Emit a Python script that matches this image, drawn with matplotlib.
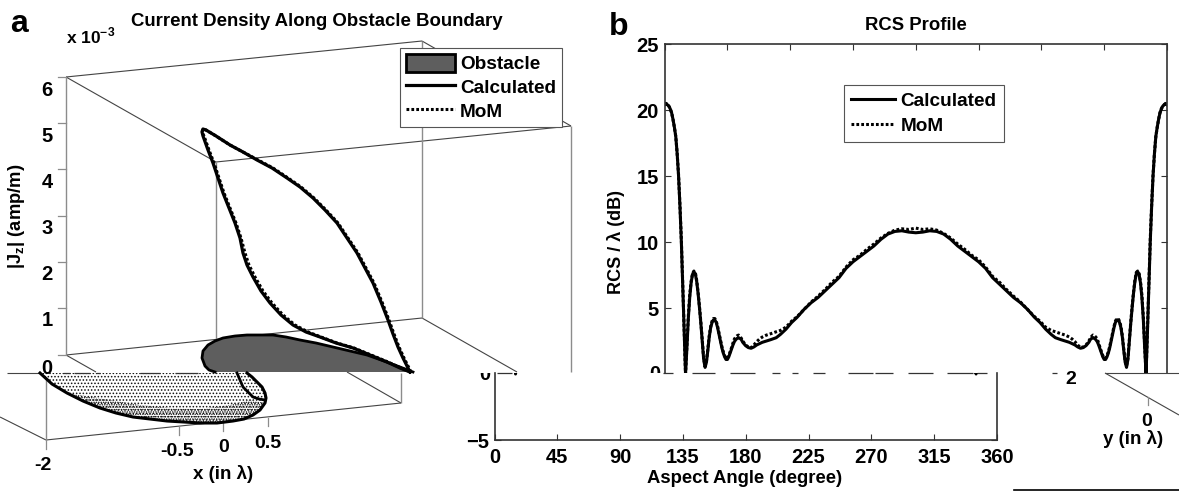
import matplotlib
matplotlib.use("Agg")
import matplotlib.pyplot as plt
from matplotlib.patches import Polygon, Rectangle, Patch
from matplotlib.lines import Line2D

plt.rcParams['font.family'] = ['Liberation Sans', 'DejaVu Sans']
plt.rcParams['font.weight'] = 'bold'
plt.rcParams['mathtext.fontset'] = 'custom'
plt.rcParams['mathtext.bf'] = 'Liberation Sans:bold'
plt.rcParams['mathtext.rm'] = 'Liberation Sans:bold'
plt.rcParams['hatch.linewidth'] = 0.7

W, H = 1179, 493
CUT = 372.5

# ---- panel b data -------------------------------------------------------
angle_half = [0, 1, 2, 3, 4, 5, 6, 7, 8, 9, 10, 11, 12, 13, 14, 15, 16, 17, 18, 19, 20, 21, 22, 23, 24, 25, 26, 27,
              28, 29, 30, 31, 32, 33, 34, 35, 36, 37, 38, 39, 40, 41, 42, 43, 44, 45, 46, 47, 48, 49, 50, 51, 52,
              53, 54, 55, 56, 58, 60, 62, 64, 66, 68, 70, 73, 76, 80, 83, 87, 91, 95, 100, 105, 110, 115, 120,
              125, 130, 135, 140, 145, 150, 155, 160, 165, 170, 175, 180]
calc_half = [20.4, 20.5, 20.4, 20.3, 20.1, 19.8, 19.3, 18.7, 18.0, 16.7, 15.0, 12.7, 10.0, 6.7, 3.2, 0.0, 2.0, 4.2,
             5.8, 6.9, 7.55, 7.75, 7.6, 7.0, 6.1, 5.0, 3.8, 2.5, 1.1, 0.5, 0.9, 1.8, 2.8, 3.5, 3.9, 4.1, 4.1, 3.9,
             3.5, 3.0, 2.5, 2.0, 1.6, 1.3, 1.1, 1.1, 1.3, 1.6, 1.9, 2.2, 2.45, 2.6, 2.7, 2.75, 2.7, 2.6, 2.4, 2.15,
             2.0, 1.95, 2.05, 2.2, 2.3, 2.4, 2.5, 2.6, 2.75, 3.0, 3.4, 3.9, 4.3, 4.9, 5.4, 5.8, 6.3, 6.8, 7.3, 8.0,
             8.5, 8.9, 9.3, 9.7, 10.2, 10.6, 10.8, 10.85, 10.75, 10.7]
mom_half = [20.4, 20.5, 20.4, 20.3, 20.1, 19.8, 19.3, 18.7, 18.0, 16.7, 15.1, 12.8, 10.2, 6.9, 3.4, 0.0, 2.2, 4.4,
            6.0, 7.0, 7.6, 7.8, 7.7, 7.1, 6.2, 5.1, 3.9, 2.6, 1.2, 0.6, 1.0, 1.9, 2.9, 3.6, 4.0, 4.2, 4.2, 4.0,
            3.6, 3.1, 2.6, 2.1, 1.7, 1.4, 1.2, 1.2, 1.4, 1.7, 2.0, 2.35, 2.65, 2.8, 2.9, 2.95, 2.85, 2.7, 2.5, 2.2,
            2.05, 2.0, 2.2, 2.45, 2.65, 2.8, 2.95, 3.05, 3.2, 3.3, 3.55, 4.0, 4.35, 4.9, 5.45, 5.9, 6.4, 6.95, 7.4,
            8.1, 8.65, 9.0, 9.45, 9.85, 10.3, 10.65, 10.9, 11.0, 10.95, 11.05]
angles = angle_half + [360 - a for a in angle_half[-2::-1]]
rcs_calc = calc_half + calc_half[-2::-1]
rcs_mom = mom_half + mom_half[-2::-1]
aspect_ticks = [0, 45, 90, 135, 180, 225, 270, 315, 360]
rcs_ticks_upper = [5, 10, 15, 20, 25]

# ---- panel a data (drawn as the picture's projected outline) --------------
j_calc_x = [410, 407, 403, 398, 393, 388, 381, 373, 365, 357, 347, 337, 325, 313, 300, 287, 272, 257, 243, 230, 216,
            206, 203, 202, 203, 208, 213, 218, 223, 229, 235, 240, 243, 247, 253, 261, 270, 281, 293, 306, 320, 336,
            353, 370, 387, 400, 410]
j_calc_y = [372, 366, 358, 347, 334, 320, 302, 283, 268, 253, 238, 223, 210, 198, 187, 178, 168, 160, 152, 145, 136,
            130, 129, 132, 136, 150, 163, 178, 193, 208, 223, 238, 253, 265, 277, 291, 303, 315, 325, 332, 337, 343,
            348, 355, 362, 368, 372]
j_mom_x = [411, 408, 404, 399, 394, 389, 382, 374, 366, 358, 348, 338, 326, 314, 301, 288, 273, 258, 243, 230, 216,
           206, 203, 202, 204, 209, 214, 219, 224, 230, 236, 241, 245, 249, 255, 263, 272, 283, 295, 308, 321, 337,
           354, 371, 388, 401, 411]
j_mom_y = [372, 366, 358, 347, 334, 320, 302, 283, 268, 253, 238, 223, 210, 198, 187, 178, 168, 160, 152, 145, 136,
           130, 129, 132, 136, 150, 163, 178, 193, 208, 223, 238, 253, 265, 277, 291, 303, 315, 325, 332, 337, 343,
           348, 355, 362, 368, 372]
obst_up_x = [215, 209, 205, 202, 203, 208, 215, 223, 235, 247, 260, 273, 286, 300, 316, 333, 350, 367, 384, 400, 413]
obst_up_y = [372, 370, 366, 358, 351, 345, 341, 338, 336, 335, 335, 335, 337, 340, 343, 347, 351, 355, 361, 367, 372]
obst_low_x = [40, 52, 67, 83, 100, 116, 133, 150, 167, 184, 200, 217, 233, 244, 253, 260, 265, 266, 265, 262, 257, 252, 247]
obst_low_y = [373, 384, 393, 401, 408, 413, 417, 419, 421, 422, 423, 423, 421, 419, 415, 410, 403, 398, 393, 387, 382, 377, 373]
obst_in_x = [237, 240, 243, 248, 253, 259, 265]
obst_in_y = [373, 380, 387, 392, 397, 399, 400]
# denser bottom band of the stippled obstacle
band_x = [67, 83, 100, 116, 133, 150, 167, 184, 200, 217, 233, 244, 253, 260, 265, 250, 230, 200, 170, 140, 110, 85]
band_y = [393, 401, 408, 413, 417, 419, 421, 422, 423, 423, 421, 419, 415, 410, 403, 400, 405, 409, 408, 405, 400, 396]

frag_b_start = [663, 692, 730, 772, 792, 813, 848, 875, 908, 947, 977, 1052]
frag_b_end = [673, 715, 755, 780, 798, 825, 873, 893, 933, 973, 987, 1057]
frag_a_start = [63, 74, 96, 140, 175, 497]
frag_a_end = [70, 90, 100, 160, 198, 512]

fig = plt.figure(figsize=(W / 100, H / 100), dpi=100)


def box(x0, y0, x1, y1):
    return [x0 / W, 1 - y1 / H, (x1 - x0) / W, (y1 - y0) / H]


SP = '#333333'
V0 = (374 - CUT) / 13.2
TICK_FS = 14.5
DOT = (0, (0.9, 0.7))

# upper part of panel b
axu = fig.add_axes(box(664.6, 44, 1167, CUT))
axu.plot(angles, rcs_calc, color='k', lw=2.2, label='Calculated')
axu.plot(angles, rcs_mom, color='k', lw=2.2, ls=DOT, label='MoM')
axu.set_xlim(0, 360)
axu.set_ylim(V0, 25)
axu.set_xticks(aspect_ticks)
axu.set_yticks(rcs_ticks_upper)
axu.tick_params(axis='both', direction='in', length=4, width=0.8, color=SP, top=True, bottom=False,
                right=True, labelbottom=False, labelsize=TICK_FS, pad=4)
axu.spines['bottom'].set_visible(False)
for s in ['top', 'left', 'right']:
    axu.spines[s].set_linewidth(1.2)
    axu.spines[s].set_color(SP)
axu.set_title('RCS Profile', fontsize=13.3, fontweight='bold', x=0.5, y=1.0, pad=10)
axu.set_ylabel('RCS / λ (dB)', fontsize=13, fontweight='bold')
axu.yaxis.set_label_coords((625 - 664.6) / 502.4, (CUT - 242) / (CUT - 44))
leg = axu.legend(loc='upper left', bbox_to_anchor=((843.7 - 664.6) / 502.4, (CUT - 85) / (CUT - 44)),
                 borderaxespad=0, fontsize=13.7, fancybox=False, framealpha=1, edgecolor='#555555',
                 handlelength=2.3, handletextpad=0.3, labelspacing=0.42, borderpad=0.38)
leg.get_frame().set_linewidth(0.8)

# lower, displaced strip of panel b
axl = fig.add_axes(box(494.6, CUT, 997, 440))
axl.plot(angles, rcs_calc, color='k', lw=2.2)
axl.set_xlim(0, 360)
axl.set_ylim(-5, V0)
axl.set_xticks(aspect_ticks)
axl.set_yticks([-5])
axl.tick_params(axis='both', direction='in', length=4, width=0.8, color=SP, labelsize=TICK_FS, pad=4)
axl.tick_params(axis='x', pad=6)
axl.tick_params(axis='y', right=True)
axl.spines['top'].set_visible(False)
for s in ['bottom', 'left', 'right']:
    axl.spines[s].set_linewidth(1.2)
    axl.spines[s].set_color(SP)
axl.set_xlabel('Aspect Angle (degree)', fontsize=13.3, fontweight='bold')
axl.xaxis.set_label_coords((745 - 494.6) / 502.4, (440 - 470) / 67.5)

# overlay in picture coordinates for panel a
ov = fig.add_axes([0, 0, 1, 1], zorder=5)
ov.set_xlim(0, W)
ov.set_ylim(H, 0)
ov.axis('off')
ov.patch.set_alpha(0)

DK = '#444444'
GR = '#8c8c8c'
edges_dark = [
    ([66, 422], [77, 41]), ([66, 216], [77, 162]), ([216, 571], [162, 126]), ([422, 571], [41, 126]),
    ([66, 422], [355, 318]), ([422, 517], [318, 372]), ([66, 96], [355, 372]), ([347, 401], [372, 403]),
    ([46, 401], [440, 403]), ([1105, 1179], [373, 415]), ([0, 46], [417, 440]), ([7, 40], [373, 373]),
    ([1105, 1179], [373, 373]),
]
for xs, ys in edges_dark:
    ov.plot(xs, ys, color=DK, lw=0.8, solid_capstyle='butt')
edges_grey = [([66, 66], [77, 355]), ([422, 422], [41, 318]), ([571, 571], [126, 372]), ([216, 216], [162, 372]),
              ([46, 46], [373, 440]), ([401, 401], [373, 403])]
for xs, ys in edges_grey:
    ov.plot(xs, ys, color=GR, lw=1.0, solid_capstyle='butt')
# z ticks
z_tick_y = [77, 123, 169, 216, 262, 308, 355]
z_labels = ['6', '5', '4', '3', '2', '1', '0']
for yy, lab in zip(z_tick_y, z_labels):
    ov.plot([58, 66], [yy, yy], color=GR, lw=0.9)
    ov.text(47, yy + 13, lab, ha='center', va='center', fontsize=TICK_FS)
# ground ticks
g_ticks = [(46, 440, 449), (179, 427, 435), (223, 423, 431), (268, 418, 426), (1147.5, 397, 405)]
for x_, y0_, y1_ in g_ticks:
    ov.plot([x_, x_], [y0_, y1_], color=GR, lw=0.9)
for txt, x_, y_ in [('-2', 43, 465), ('-0.5', 177, 452), ('0', 224, 447), ('0.5', 268, 443),
                    ('0', 1147, 421), ('2', 1071, 380)]:
    ov.text(x_, y_, txt, ha='center', va='center', fontsize=14)
ov.text(223, 474, 'x (in λ)', ha='center', va='center', fontsize=13.5)
ov.text(1133, 439, 'y (in λ)', ha='center', va='center', fontsize=13.5)

# obstacle
up = Polygon(list(zip(obst_up_x, obst_up_y)), closed=True, facecolor='#5e5e5e', edgecolor='none', zorder=2)
ov.add_patch(up)
ov.plot(obst_up_x, obst_up_y, color='k', lw=2.0, zorder=3)
low = Polygon(list(zip(obst_low_x, obst_low_y)), closed=True, facecolor='white', edgecolor='#111111', lw=0,
              hatch='.....', zorder=2)
ov.add_patch(low)
band = Polygon(list(zip(band_x, band_y)), closed=True, facecolor='none', edgecolor='#111111', lw=0,
               hatch='.......', zorder=2)
ov.add_patch(band)
ov.plot(obst_low_x, obst_low_y, color='k', lw=2.2, zorder=3)
ov.plot(obst_in_x, obst_in_y, color='k', lw=2.0, zorder=3)

# current density
ov.plot(j_calc_x, j_calc_y, color='k', lw=2.3, zorder=4, label='Calculated')
ov.plot(j_mom_x, j_mom_y, color='k', lw=2.2, ls=DOT, zorder=4, label='MoM')

# strip fragments
ov.hlines([373.2] * len(frag_b_start), frag_b_start, frag_b_end, color='#333333', lw=0.9)
ov.hlines([373.2] * len(frag_a_start), frag_a_start, frag_a_end, color='#333333', lw=0.9)
ov.plot([1014, 1179], [489.5, 489.5], color='k', lw=1.2)

# the split "0" label of panel b
for x_, y0_, y1_ in [(655, 360, CUT), (485, CUT, 390)]:
    t = ov.text(x_, 374, '0', ha='center', va='center', fontsize=TICK_FS, clip_on=True)
    t.set_clip_path(Rectangle((x_ - 15, y0_), 30, y1_ - y0_, transform=ov.transData))

# titles and labels
ov.text(317, 21, 'Current Density Along Obstacle Boundary', ha='center', va='center', fontsize=13.4)
ov.text(66, 36, r'x 10$^{\mathbf{-3}}$', ha='left', va='center', fontsize=12.5)
ov.text(17, 216, r'|J$_{\mathbf{z}}$| (amp/m)', ha='center', va='center', rotation=90, fontsize=13.2)
ov.text(19, 24, 'a', ha='center', va='center', fontsize=23)
ov.text(619, 27, 'b', ha='center', va='center', fontsize=23)

# legend a
handles = [Patch(facecolor='#5e5e5e', edgecolor='k', lw=2.0, label='Obstacle'),
           Line2D([], [], color='k', lw=2.3, label='Calculated'),
           Line2D([], [], color='k', lw=2.2, ls=DOT, label='MoM')]
lega = ov.legend(handles=handles, loc='upper left', bbox_to_anchor=(400 / W, 1 - 48 / H), bbox_transform=fig.transFigure,
                 borderaxespad=0, fontsize=13.7, fancybox=False, framealpha=1, edgecolor='#555555',
                 handlelength=2.6, handletextpad=0.26, labelspacing=0.22, borderpad=0.3, handleheight=1.1)
lega.get_frame().set_linewidth(0.8)

fig.savefig('out.png', dpi=100)
